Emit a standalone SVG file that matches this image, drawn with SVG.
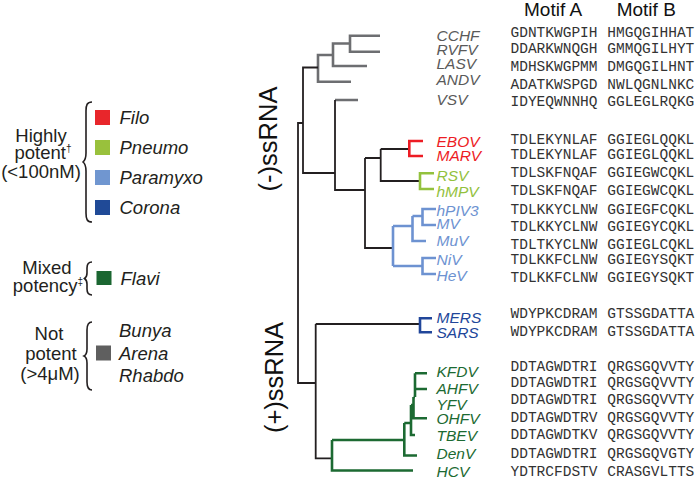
<svg xmlns="http://www.w3.org/2000/svg" width="697" height="479" viewBox="0 0 697 479">
<style>
path{fill:none;stroke-linejoin:miter}
.k{stroke:#231f20;stroke-width:1.8}
.g{stroke:#6d6e71;stroke-width:2.6}
.r{stroke:#ed1c24;stroke-width:2.6}
.y{stroke:#93c13d;stroke-width:2.6}
.b{stroke:#6d92d1;stroke-width:2.6}
.d{stroke:#21469a;stroke-width:2.6}
.f{stroke:#1c6a32;stroke-width:2.6}
.br{stroke:#231f20;stroke-width:1.6}
.lab{font-family:"Liberation Sans",Arial,sans-serif;font-style:italic;font-size:15.5px}
.seq{font-family:"Liberation Mono","Courier New",monospace;font-size:14.5px;fill:#333}
.leg{font-family:"Liberation Sans",Arial,sans-serif;font-size:18.5px;fill:#231f20}
.it{font-style:italic}
.hd{font-family:"Liberation Sans",Arial,sans-serif;font-size:19px;fill:#111}
.rot{font-family:"Liberation Sans",Arial,sans-serif;font-size:25.5px;fill:#111;text-anchor:middle}
.tg{fill:#5a5a5a}.tr{fill:#ed1c24}.ty{fill:#93c13d}.tb{fill:#6d92d1}.td{fill:#21469a}.tf{fill:#1c6a32}
</style>

<g id="headers">
<text class="hd" x="524" y="16">Motif A</text>
<text class="hd" x="616.7" y="16">Motif B</text>
</g>

<g id="clade-labels">
<text class="rot" transform="translate(277,139) rotate(-90)">(-)ssRNA</text>
<text class="rot" transform="translate(282.5,377.5) rotate(-90)">(+)ssRNA</text>
</g>

<g id="connectors">
<path class="g" d="M380,35.7H350V51.7H380M350,43.5H333V66H367M333,55H318V81.7H351M335,100H358"/>
<path class="k" d="M318,67.5H303V173H335M335,100V190H365M303,123H298V383H315.7M315.7,324H420M315.7,324V458.3H332M365,158V248H393M365,158H380.7M380.7,149V181H420M380.7,149H409.3"/>
<path class="r" d="M423,141H409.3V156H423"/>
<path class="y" d="M434,173.3H420V189H434"/>
<path class="b" d="M393,226V266M393,226H412.5M412.5,216V241H426M412.5,216H422.5M436,209H422.5V225H436M393,266H422.5M436,258H422.5V274H436"/>
<path class="d" d="M432,318.3H420V332.3H432"/>
<path class="f" d="M332,440V470.5H413M332,440H404.3M404.3,423V455.5H417M404.3,423H411M411,405V435H415M411,405H413.5M413.5,397V418.3H427M413.5,397H415M415,373.3V397M415,373.3H427M415,389H427"/>
</g>

<g id="CCHF"><text class="lab tg" x="436.5" y="40.5">CCHF</text><text class="seq" y="36.5"><tspan x="510.5">GDNTKWGPIH</tspan><tspan x="607.3">HMGQGIHHAT</tspan></text></g>
<g id="RVFV"><text class="lab tg" x="436.5" y="54.8">RVFV</text><text class="seq" y="53.3"><tspan x="510.5">DDARKWNQGH</tspan><tspan x="607.3">GMMQGILHYT</tspan></text></g>
<g id="LASV"><text class="lab tg" x="436.5" y="68.8">LASV</text><text class="seq" y="71"><tspan x="510.5">MDHSKWGPMM</tspan><tspan x="607.3">DMGQGILHNT</tspan></text></g>
<g id="ANDV"><text class="lab tg" x="436.5" y="84.8">ANDV</text><text class="seq" y="88.6"><tspan x="510.5">ADATKWSPGD</tspan><tspan x="607.3">NWLQGNLNKC</tspan></text></g>
<g id="VSV"><text class="lab tg" x="436.5" y="104.8">VSV</text><text class="seq" y="106"><tspan x="510.5">IDYEQWNNHQ</tspan><tspan x="607.3">GGLEGLRQKG</tspan></text></g>

<g id="EBOV"><text class="lab tr" x="436.5" y="147">EBOV</text><text class="seq" y="144.3"><tspan x="510.5">TDLEKYNLAF</tspan><tspan x="607.3">GGIEGLQQKL</tspan></text></g>
<g id="MARV"><text class="lab tr" x="436.5" y="161">MARV</text><text class="seq" y="159.3"><tspan x="510.5">TDLEKYNLAF</tspan><tspan x="607.3">GGIEGLQQKL</tspan></text></g>
<g id="RSV"><text class="lab ty" x="436.5" y="180.5">RSV</text><text class="seq" y="177"><tspan x="510.5">TDLSKFNQAF</tspan><tspan x="607.3">GGIEGWCQKL</tspan></text></g>
<g id="hMPV"><text class="lab ty" x="436.5" y="197">hMPV</text><text class="seq" y="195"><tspan x="510.5">TDLSKFNQAF</tspan><tspan x="607.3">GGIEGWCQKL</tspan></text></g>
<g id="hPIV3"><text class="lab tb" x="436.5" y="216">hPIV3</text><text class="seq" y="213.6"><tspan x="510.5">TDLKKYCLNW</tspan><tspan x="607.3">GGIEGFCQKL</tspan></text></g>
<g id="MV"><text class="lab tb" x="436.5" y="229">MV</text><text class="seq" y="231"><tspan x="510.5">TDLKKYCLNW</tspan><tspan x="607.3">GGIEGYCQKL</tspan></text></g>
<g id="MuV"><text class="lab tb" x="436.5" y="245.5">MuV</text><text class="seq" y="248.6"><tspan x="510.5">TDLTKYCLNW</tspan><tspan x="607.3">GGIEGLCQKL</tspan></text></g>
<g id="NiV"><text class="lab tb" x="436.5" y="265">NiV</text><text class="seq" y="264.3"><tspan x="510.5">TDLKKFCLNW</tspan><tspan x="607.3">GGIEGYSQKT</tspan></text></g>
<g id="HeV"><text class="lab tb" x="436.5" y="281">HeV</text><text class="seq" y="281.6"><tspan x="510.5">TDLKKFCLNW</tspan><tspan x="607.3">GGIEGYSQKT</tspan></text></g>

<g id="MERS"><text class="lab td" x="436.5" y="323">MERS</text><text class="seq" y="318.3"><tspan x="510.5">WDYPKCDRAM</tspan><tspan x="607.3">GTSSGDATTA</tspan></text></g>
<g id="SARS"><text class="lab td" x="436.5" y="337.5">SARS</text><text class="seq" y="336"><tspan x="510.5">WDYPKCDRAM</tspan><tspan x="607.3">GTSSGDATTA</tspan></text></g>

<g id="KFDV"><text class="lab tf" x="436.5" y="377">KFDV</text><text class="seq" y="371"><tspan x="510.5">DDTAGWDTRI</tspan><tspan x="607.3">QRGSGQVVTY</tspan></text></g>
<g id="AHFV"><text class="lab tf" x="436.5" y="393.5">AHFV</text><text class="seq" y="387"><tspan x="510.5">DDTAGWDTRI</tspan><tspan x="607.3">QRGSGQVVTY</tspan></text></g>
<g id="YFV"><text class="lab tf" x="436.5" y="409.5">YFV</text><text class="seq" y="403.6"><tspan x="510.5">DDTAGWDTRI</tspan><tspan x="607.3">QRGSGQVVTY</tspan></text></g>
<g id="OHFV"><text class="lab tf" x="436.5" y="424">OHFV</text><text class="seq" y="422"><tspan x="510.5">DDTAGWDTRV</tspan><tspan x="607.3">QRGSGQVVTY</tspan></text></g>
<g id="TBEV"><text class="lab tf" x="436.5" y="440.5">TBEV</text><text class="seq" y="439.3"><tspan x="510.5">DDTAGWDTKV</tspan><tspan x="607.3">QRGSGQVVTY</tspan></text></g>
<g id="DenV"><text class="lab tf" x="436.5" y="459">DenV</text><text class="seq" y="457.6"><tspan x="510.5">DDTAGWDTRI</tspan><tspan x="607.3">QRGSGQVGTY</tspan></text></g>
<g id="HCV"><text class="lab tf" x="436.5" y="476.5">HCV</text><text class="seq" y="476"><tspan x="510.5">YDTRCFDSTV</tspan><tspan x="607.3">CRASGVLTTS</tspan></text></g>

<g id="legend-highly">
<text class="leg" text-anchor="middle" x="41" y="141.5">Highly</text>
<text class="leg" text-anchor="middle" x="43" y="158.5">potent<tspan font-size="10" dy="-7">†</tspan></text>
<text class="leg" text-anchor="middle" x="41" y="177.5">(&lt;100nM)</text>
<path class="br" d="M92,102C87,102 86,105 86,111V153C86,158 85.5,160 83,162C85.5,164 86,166 86,171V213C86,219 87,222 92,222"/>
<rect x="95" y="110" width="15" height="15" fill="#e8262b"/>
<rect x="95" y="140" width="15" height="15" fill="#99c13c"/>
<rect x="95" y="170" width="15" height="15" fill="#7096d0"/>
<rect x="95" y="200" width="15" height="15" fill="#204a97"/>
<text class="leg it" x="119.5" y="124">Filo</text>
<text class="leg it" x="119.5" y="154">Pneumo</text>
<text class="leg it" x="119.5" y="184">Paramyxo</text>
<text class="leg it" x="119.5" y="214">Corona</text>
</g>

<g id="legend-mixed">
<text class="leg" text-anchor="middle" x="47" y="274.3">Mixed</text>
<text class="leg" text-anchor="middle" x="48" y="291.5">potency<tspan font-size="10" dy="-7">‡</tspan></text>
<path class="br" d="M92,262C88,262 87,264 87,268V273C87,276 86,277.5 84.5,278.5C86,279.5 87,281 87,284V289C87,293 88,295 92,295"/>
<rect x="96.5" y="271" width="15" height="14" fill="#1b6631"/>
<text class="leg it" x="120.5" y="285">Flavi</text>
</g>

<g id="legend-not">
<text class="leg" text-anchor="middle" x="49" y="340">Not</text>
<text class="leg" text-anchor="middle" x="51" y="360">potent</text>
<text class="leg" text-anchor="middle" x="50" y="380">(&gt;4μM)</text>
<path class="br" d="M92,322C88,322 87,325 87,330V349C87,353 86,355 84,356C86,357 87,359 87,363V382C87,387 88,390 92,390"/>
<rect x="96" y="345.5" width="15" height="15" fill="#5f5f5f"/>
<text class="leg it" x="119" y="337">Bunya</text>
<text class="leg it" x="119" y="359.8">Arena</text>
<text class="leg it" x="119" y="381.5">Rhabdo</text>
</g>
</svg>
